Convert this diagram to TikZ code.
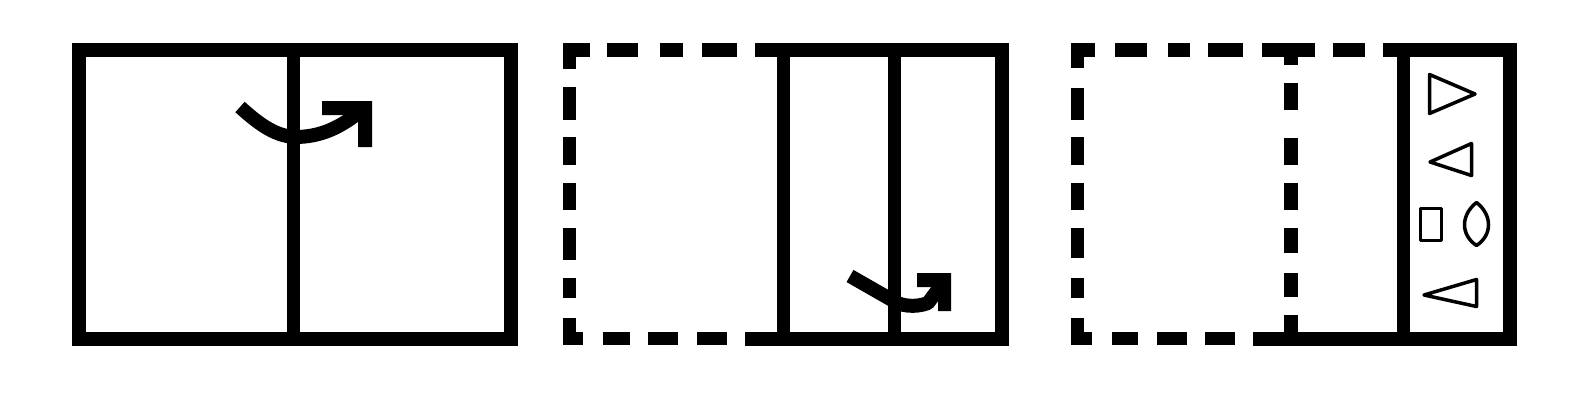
\documentclass[tikz,border=0pt]{standalone}
\begin{document}
\begin{tikzpicture}[x=1pt,y=-1pt,
  frame/.style={line width=14pt, line join=miter, line cap=butt},
  divider/.style={line width=13pt, line cap=butt},
  dsh/.style={line width=13.5pt, line cap=butt, line join=miter},
  swing/.style={line width=14pt, line cap=butt, line join=round},
  icon/.style={line width=3.5pt, line join=round}]
\useasboundingbox[fill=white] (0,0) rectangle (1592,400);

% ---------- Panel 1 ----------
\draw[frame] (79,50) rectangle (511,338.5);
\draw[divider] (293,50) -- (293,338.5);
\draw[swing] (240,107) .. controls (262,127) and (277,136) .. (295,137) .. controls (320,137) and (340,128) .. (362,110);
\fill (322,101) -- (372,101) -- (372,147) -- (358,147) -- (358,115) -- (322,115) -- cycle;

% ---------- Panel 2 ----------
\draw[frame] (755,50) -- (1001.5,50) -- (1001.5,338.5) -- (745,338.5);
\draw[divider] (783.5,50) -- (783.5,338.5);
\draw[divider] (894.5,50) -- (894.5,338.5);
% dashed outline
\draw[dsh] (590,50) -- (569.5,50) -- (569.5,69);
\foreach \a/\b in {607/638, 660/683, 702/737} \draw[dsh] (\a,50) -- (\b,50);
\foreach \a/\b in {87/120, 137/165, 183/210, 228/260, 278/298} \draw[dsh] (569.5,\a) -- (569.5,\b);
\draw[dsh] (569.5,318) -- (569.5,338.5) -- (583,338.5);
\foreach \a/\b in {603/630, 648/678, 697/727} \draw[dsh] (\a,338.5) -- (\b,338.5);
% arrow
\draw[swing] (850,276) -- (892,300) .. controls (900,306) and (915,308) .. (928,303) -- (942,284);
\fill (917,273) -- (951,273) -- (951,311) -- (938,311) -- (938,287) -- (917,287) -- cycle;

% ---------- Panel 3 ----------
\draw[frame] (1383,50) -- (1509.5,50) -- (1509.5,338.5) -- (1253,338.5);
\draw[divider] (1403,50) -- (1403,338.5);
\draw[dsh] (1095,50) -- (1077.5,50) -- (1077.5,68);
\foreach \a/\b in {1115/1147, 1168/1190, 1208/1243, 1262/1315, 1333/1365} \draw[dsh] (\a,50) -- (\b,50);
\draw[dsh] (1291,50) -- (1291,65);
\foreach \a/\b in {88/120, 137/165, 183/210, 228/258, 278/298} \draw[dsh] (1077.5,\a) -- (1077.5,\b);
\draw[dsh] (1077.5,318) -- (1077.5,338.5) -- (1092,338.5);
\foreach \a/\b in {1112/1138, 1157/1187, 1205/1235} \draw[dsh] (\a,338.5) -- (\b,338.5);
\foreach \a/\b in {83/110, 138/165, 183/210, 228/253, 273/297} \draw[dsh] (1291,\a) -- (1291,\b);
\draw[dsh] (1291,338.5) -- (1291,315);
% icons
\draw[icon] (1429.5,74.5) -- (1475,94) -- (1429.5,113.5) -- cycle;
\draw[icon] (1430,162) -- (1471.5,143.5) -- (1471.5,175.5) -- cycle;
\draw[icon] (1420.5,208.5) rectangle (1441.5,240.5);
\draw[icon] (1476.5,202.5) .. controls (1492.5,215) and (1492.5,235) .. (1476.5,245.5) .. controls (1460.5,235) and (1460.5,215) .. cycle;
\draw[icon] (1424,295) -- (1476.5,279.5) -- (1476.5,306.5) -- cycle;
\end{tikzpicture}
\end{document}
